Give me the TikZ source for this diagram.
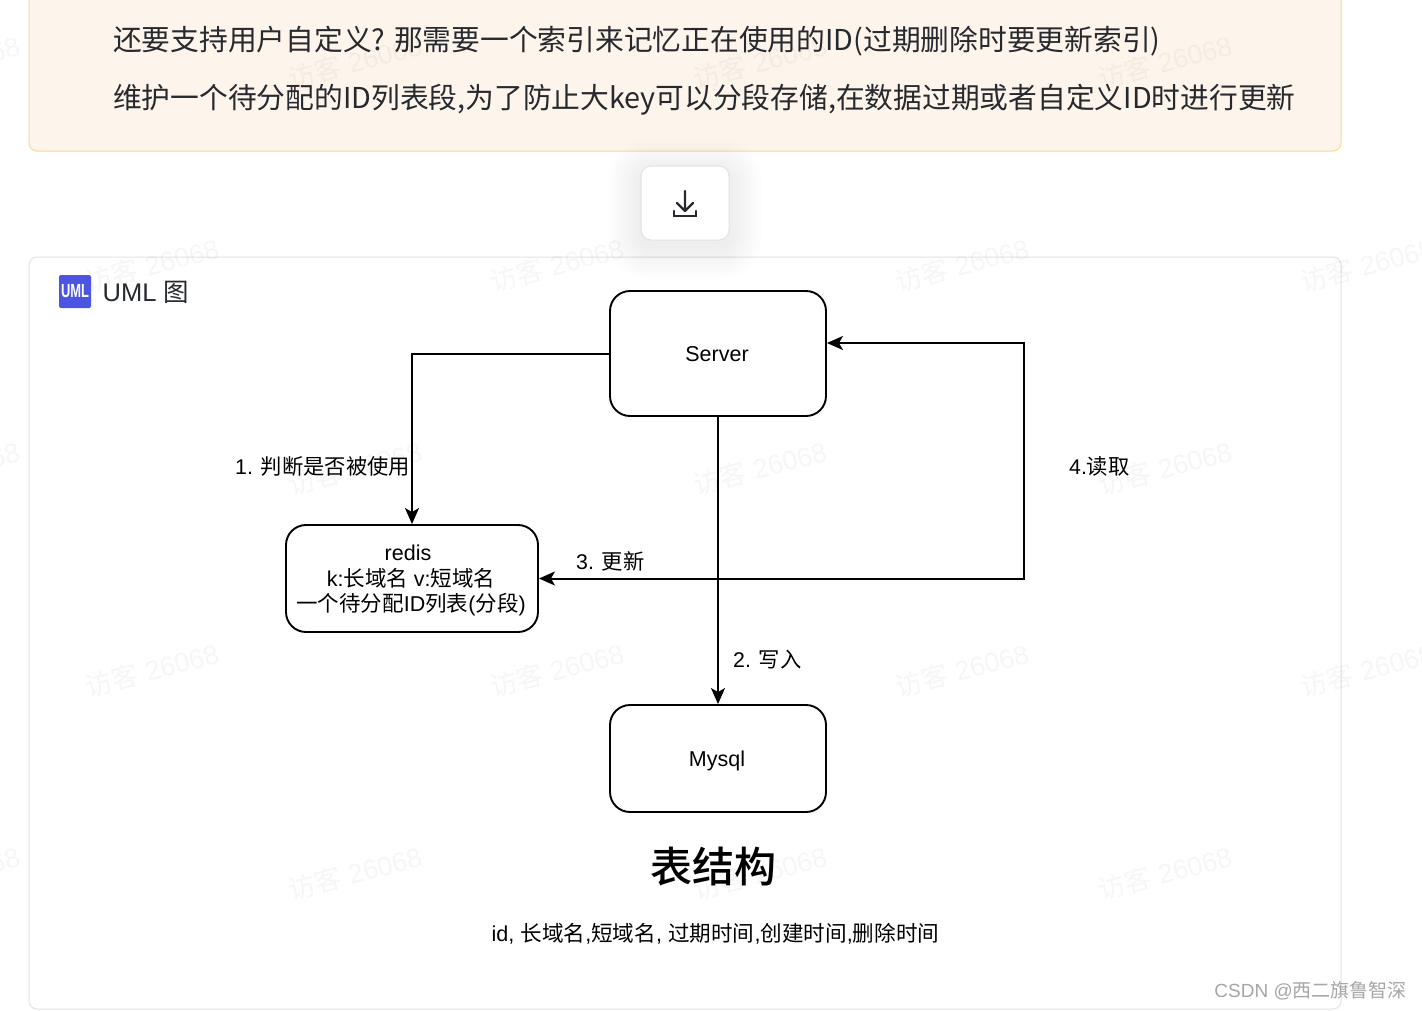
\documentclass[tikz,border=0pt]{standalone}
\usepackage{fontspec}
\setmainfont{Liberation Sans}
\newfontfamily\cjkfont{Noto Sans CJK SC}
\newfontfamily\cjkmed{Noto Sans CJK SC Medium}
\newcommand{\zh}[1]{{\cjkfont #1}}
\newcommand{\fsz}[1]{\fontsize{#1}{#1}\selectfont}
\usetikzlibrary{arrows.meta,calc}
\definecolor{notefill}{HTML}{FDF4EB}
\definecolor{noteedge}{HTML}{FAD894}
\definecolor{cardedge}{HTML}{E2E2E7}
\definecolor{bodyink}{HTML}{26292E}
\definecolor{logoblue}{HTML}{4B55E1}
\definecolor{csdngray}{HTML}{A6A6A6}
\tikzset{
  flowbox/.style={draw=black,line width=1.9pt,rounded corners=20pt,inner sep=0pt,align=center,font=\fsz{21.3}},
  flowline/.style={draw=black,line width=2pt},
  flowarrow/.style={flowline,-{Stealth[length=16pt,width=14pt,inset=4pt]}},
  flowlabel/.style={font=\fsz{21.3},inner sep=0pt,anchor=base west},
  notetext/.style={font=\fsz{28.75},text=bodyink,inner sep=0pt,anchor=base west},
  wmark/.style={font=\fsz{27},text=black,text opacity=.035,rotate=15,inner sep=0pt}
}
\begin{document}
\begin{tikzpicture}[x=1pt,y=-1pt]
\useasboundingbox (0,0) rectangle (1422,1010);
\clip (0,0) rectangle (1422,1010);
\fill[white] (0,0) rectangle (1422,1010);
% note panel
\draw[draw=noteedge,fill=notefill,line width=1pt,rounded corners=8pt] (29,-12) rectangle (1341,151);
\node[notetext] (line1) at (113,50) {\cjkfont 还要支持用户自定义? 那需要一个索引来记忆正在使用的ID(过期删除时要更新索引)};
\node[notetext] (line2) at (113,108) {\cjkfont 维护一个待分配的ID列表段,为了防止大key可以分段存储,在数据过期或者自定义ID时进行更新};
% card
\draw[draw=cardedge,line width=1pt,rounded corners=8pt] (29,257) rectangle (1341,1009);
% download button
\foreach \g in {34,32,...,2}{
  \fill[black,opacity=.0032,rounded corners=10pt+\g*1pt] (641-\g,166-\g+6) rectangle (729+\g,240+\g+6);
}
\draw[draw=cardedge,fill=white,line width=1pt,rounded corners=10pt] (641,166) rectangle (729,240);
\draw[draw=bodyink,line width=2.2pt,line cap=round,line join=round] (685,191) -- (685,210) (677,203) -- (685,211) -- (693,203);
\draw[draw=bodyink,line width=2.6pt,line cap=round] (674,211) -- (674,216) -- (696,216) -- (696,211);
% logo and title
\node[fill=logoblue,rounded corners=2pt,minimum width=32pt,minimum height=33pt,inner sep=0pt,text=white,font=\fsz{19}\bfseries] (logo) at (75,291.5) {\scalebox{.68}[1]{UML}};
\node[font=\fsz{25.5},text=bodyink,inner sep=0pt,anchor=base west] (umltitle) at (102.5,301) {UML \zh{图}};
% boxes
\node[flowbox,minimum width=216pt,minimum height=125pt] (server) at (718,353.5) {};
\node[flowbox,minimum width=252pt,minimum height=107pt] (redis) at (412,578.5) {};
\node[flowbox,minimum width=216pt,minimum height=107pt] (mysql) at (718,758.5) {};
\node[font=\fsz{21.5},inner sep=0pt,anchor=base] (servertext) at (717,361) {Server};
\node[font=\fsz{21.5},inner sep=0pt,anchor=base] (mysqltext) at (717,766) {Mysql};
\node[font=\fsz{21.5},inner sep=0pt,anchor=base] (r1) at (408,560) {redis};
\node[font=\fsz{21.5},inner sep=0pt,anchor=base] (r2) at (411,586) {k:\zh{长域名} v:\zh{短域名}};
\node[font=\fsz{21.5},inner sep=0pt,anchor=base] (r3) at (411,611) {\zh{一个待分配}ID\zh{列表}(\zh{分段})};
% connectors
\coordinate (junction) at (718,578.5);
\draw[flowarrow] (server.west) -| (redis.north);
\draw[flowarrow] (server.south) -- (mysql.north);
\draw[flowarrow] (junction) -- (redis.east);
\draw[flowarrow] (junction) -- (1024,578.5) -- (1024,343) -- ($(server.east)+(0,-10.5)$);
% labels
\node[flowlabel] (l1) at (235,474) {1. \zh{判断是否被使用}};
\node[flowlabel] (l2) at (733,667) {2. \zh{写入}};
\node[flowlabel] (l3) at (576,569) {3. \zh{更新}};
\node[flowlabel] (l4) at (1069,474) {4.\zh{读取}};
% table structure
\node[font=\fsz{42},inner sep=0pt,anchor=base] (tabletitle) at (713,882) {\cjkmed 表结构};
\node[font=\fsz{21.6},inner sep=0pt,anchor=base] (fields) at (715.5,941) {id, \zh{长域名},\zh{短域名}, \zh{过期时间},\zh{创建时间},\zh{删除时间}};
% watermarks
\foreach \px/\py in {-47/62,355/62,760/62,1165/62,-47/468,355/468,760/468,1165/468,-47/873,355/873,760/873,1165/873,152/265,557/265,962/265,1367/265,152/670,557/670,962/670,1367/670}{
  \node[wmark] at (\px,\py) {\zh{访客} 26068};
}
% credit
\node[font=\fsz{19},text=csdngray,inner sep=0pt,anchor=base east] (credit) at (1407,997) {CSDN @\zh{西二旗鲁智深}};
\end{tikzpicture}
\end{document}
